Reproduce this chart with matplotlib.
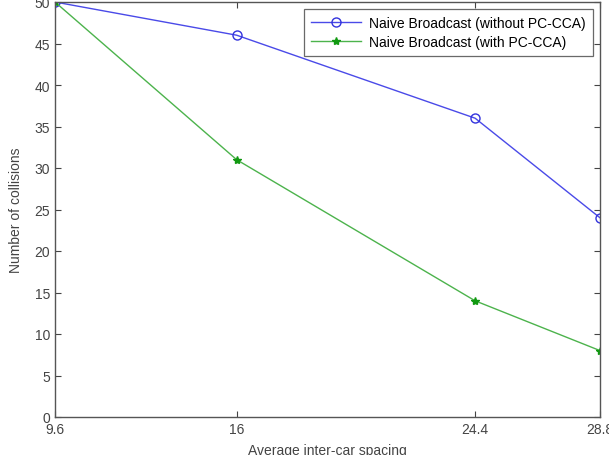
import matplotlib
matplotlib.use("Agg")
import matplotlib.pyplot as plt

spacing = [9.6, 16, 24.4, 28.8]
without_pcca = [50, 46, 36, 24]
with_pcca = [50, 31, 14, 8]
xticks = [9.6, 16, 24.4, 28.8]
xtick_labels = ["9.6", "16", "24.4", "28.8"]
yticks = list(range(0, 51, 5))

plt.rcParams['font.family'] = ['Liberation Sans', 'DejaVu Sans']

fig = plt.figure(figsize=(6.09, 4.56), dpi=100)
ax = fig.add_axes([55/609, 1-418/456, (600-55)/609, (418-3)/456])

ax.plot(spacing, without_pcca, color='#4a4ae8', marker='o', markerfacecolor='none',
        markeredgecolor='#3333dd', markersize=6.5, linewidth=1.0,
        label='Naive Broadcast (without PC-CCA)')
ax.plot(spacing, with_pcca, color='#4cb34c', marker='*', markersize=6,
        markerfacecolor='#119911', markeredgecolor='#119911',
        linewidth=1.0, label='Naive Broadcast (with PC-CCA)')

ax.set_xlim(9.6, 28.8)
ax.set_ylim(0, 50)
ax.set_xticks(xticks)
ax.set_xticklabels(xtick_labels)
ax.set_yticks(yticks)
ax.tick_params(direction='in', length=4, labelsize=10, colors='#444444', top=True, right=True)
for s in ax.spines.values():
    s.set_color('#555555')
    s.set_linewidth(1.0)

ax.set_xlabel('Average inter-car spacing', fontsize=10, color='#444444', labelpad=5)
ax.set_ylabel('Number of collisions', fontsize=10, color='#444444', labelpad=8)

leg = ax.legend(loc='upper right', fontsize=10, frameon=True, fancybox=False,
                edgecolor='#444444', borderaxespad=0.5, handlelength=3.6, borderpad=0.5,
                labelspacing=0.35, handletextpad=0.6)
leg.get_frame().set_linewidth(0.9)

fig.savefig('out.png', dpi=100)
